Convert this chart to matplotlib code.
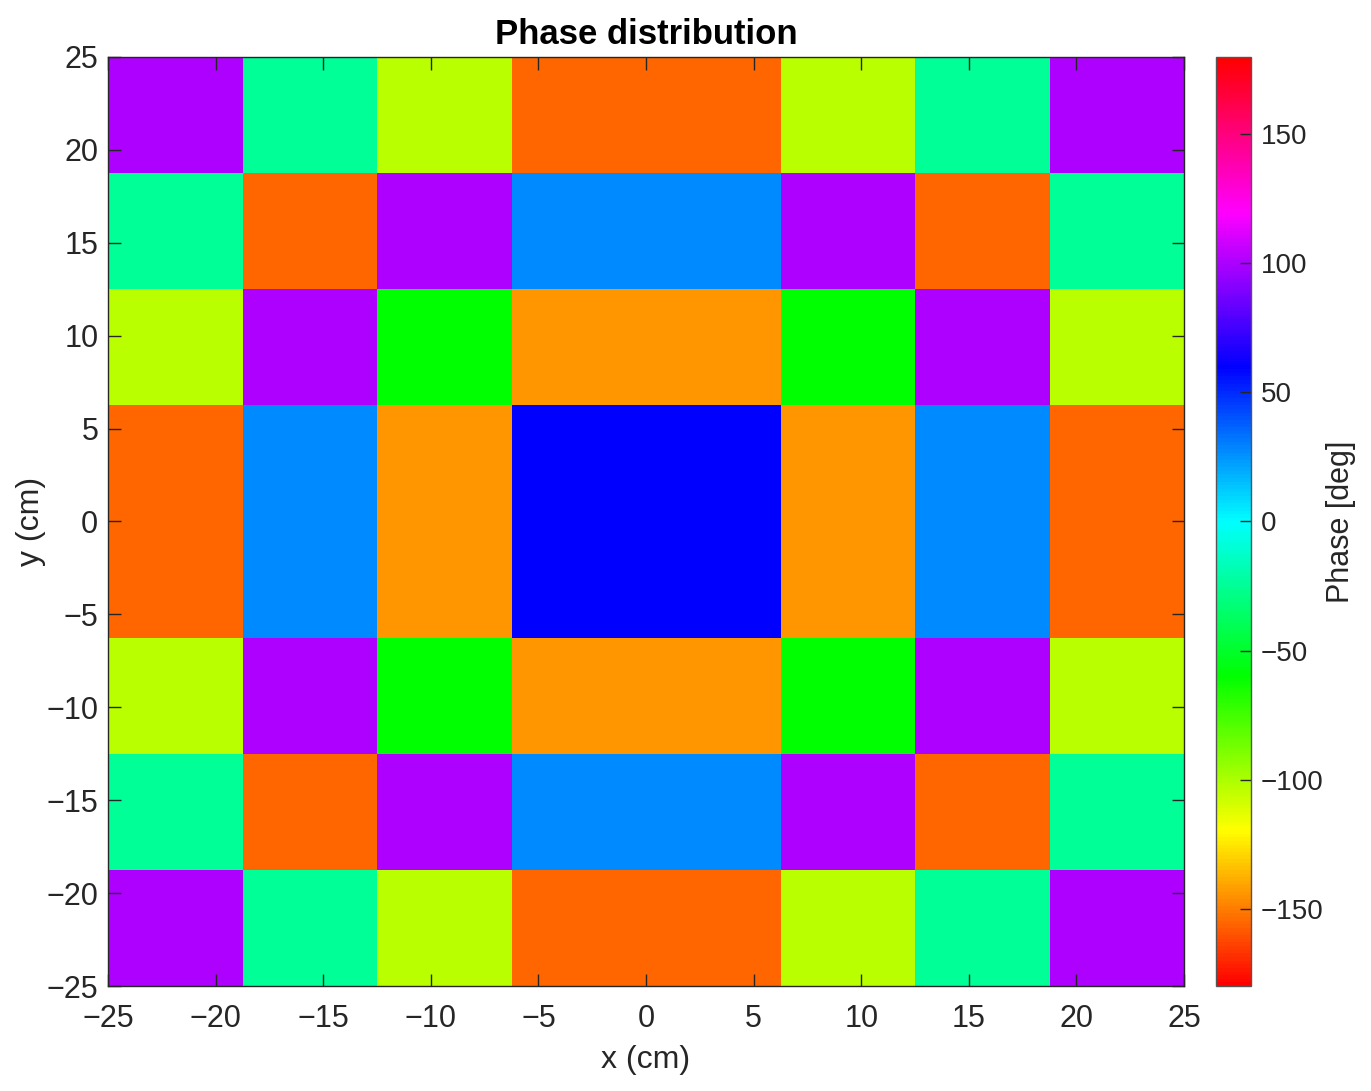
import colorsys
import numpy as np
import matplotlib
matplotlib.use('Agg')
import matplotlib.pyplot as plt
from matplotlib.colors import ListedColormap

# cell edges (cm)
x_edges = [-25, -18.75, -12.5, -6.25, 0, 6.25, 12.5, 18.75, 25]
y_edges = [-25, -18.75, -12.5, -6.25, 0, 6.25, 12.5, 18.75, 25]

# phase values (deg), rows from top (y=25) to bottom (y=-25)
phase_rows = [
    [100, -24, -103, -156, -156, -103, -24, 100],
    [-24, -156, 100, 28, 28, 100, -156, -24],
    [-103, 100, -60, -144, -144, -60, 100, -103],
    [-156, 28, -144, 60, 60, -144, 28, -156],
    [-156, 28, -144, 60, 60, -144, 28, -156],
    [-103, 100, -60, -144, -144, -60, 100, -103],
    [-24, -156, 100, 28, 28, 100, -156, -24],
    [100, -24, -103, -156, -156, -103, -24, 100],
]

ticks = [-25, -20, -15, -10, -5, 0, 5, 10, 15, 20, 25]
cb_ticks = [-150, -100, -50, 0, 50, 100, 150]

# matlab-like hsv
hsv_cols = [colorsys.hsv_to_rgb(h, 1, 1) for h in np.linspace(0, 1, 256)]
cmap = ListedColormap(hsv_cols)

plt.rcParams['font.family'] = ['Liberation Sans Narrow', 'Liberation Sans', 'DejaVu Sans']

fig = plt.figure(figsize=(13.71, 10.91), dpi=100)
ax = fig.add_axes([0.0788, 0.0962, 0.7848, 0.8516])
cax = fig.add_axes([0.887, 0.0962, 0.0255, 0.8516])

Z = np.array(phase_rows)[::-1]
mesh = ax.pcolormesh(x_edges, y_edges, Z, cmap=cmap, vmin=-180, vmax=180)

ax.set_xlim(-25, 25)
ax.set_ylim(-25, 25)
ax.set_xticks(ticks)
ax.set_yticks(ticks)
ax.tick_params(direction='in', length=9, width=1, top=True, right=True,
               labelsize=22, colors='#262626')
ax.tick_params(axis='x', pad=13)
ax.tick_params(axis='y', pad=7)
for s in ax.spines.values():
    s.set_color('#262626')
    s.set_linewidth(1)

ax.set_xlabel('x (cm)', fontsize=23, color='#262626', labelpad=8)
ax.set_ylabel('y (cm)', fontsize=23, color='#262626', labelpad=0)
ax.set_title('Phase distribution', fontsize=25, fontweight='bold', pad=9)

cb = fig.colorbar(mesh, cax=cax)
cb.set_ticks(cb_ticks)
cb.ax.tick_params(direction='in', length=8, width=1, labelsize=20, colors='#262626', pad=7)
cb.outline.set_edgecolor('#555555')
cb.outline.set_linewidth(1)
cb.set_label('Phase [deg]', fontsize=22, color='#262626', labelpad=2)

fig.savefig('out.png', dpi=100)
